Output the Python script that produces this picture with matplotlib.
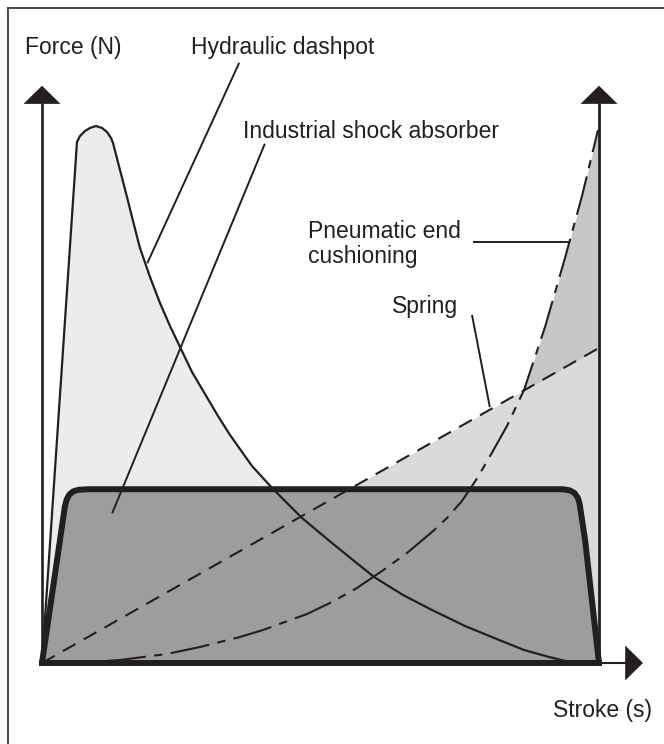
import matplotlib
matplotlib.use('Agg')
import matplotlib.pyplot as plt
from matplotlib.patches import Polygon
from matplotlib.lines import Line2D

INK = '#231f20'
HYD_FILL = '#ececec'
SPRING_FILL = '#d9dadc'
PNEU_FILL = '#c6c7c9'
SHOCK_FILL = '#9c9d9f'

# stroke in % of travel, force in % of hydraulic peak
hyd_x = [0, 6.28, 6.82, 7.72, 8.62, 9.69, 10.77, 11.67, 12.39, 12.75, 14.00,
         15.26, 16.34, 17.59, 19.39, 21.18, 22.98, 24.78, 26.93, 29.26, 31.60,
         33.75, 37.70, 41.47, 46.68, 52.06, 55.83, 59.61, 64.81, 70.02, 75.94,
         82.05, 86.54, 91.02, 93.90, 96.41]
hyd_y = [0, 97.75, 98.87, 99.81, 100.38, 100.75, 100.38, 99.62, 98.50, 97.56,
         92.50, 87.43, 82.93, 77.86, 72.42, 67.54, 63.23, 59.29, 54.60, 50.47,
         46.34, 42.78, 36.96, 32.65, 27.20, 22.51, 19.32, 16.14, 12.76, 9.94,
         6.94, 4.32, 2.44, 1.13, 0.38, 0]

pneu_x = [0, 8.62, 14.00, 22.44, 28.37, 35.55, 39.68, 47.58, 52.06, 56.55, 61.04,
          65.53, 70.02, 72.71, 75.40, 77.92, 80.25, 83.48, 86.54, 90.31, 93.90,
          96.95, 99.82]
pneu_y = [0, 0.19, 0.56, 1.69, 3.00, 4.88, 6.19, 9.19, 11.44, 14.07, 17.26,
          20.64, 24.58, 27.20, 30.39, 34.33, 38.46, 44.47, 51.22, 63.04, 76.00,
          87.62, 100.0]

spring_x = [0, 100]
spring_y = [0, 59.1]

shock_x = [0, 4.1, 4.4, 4.9, 5.6, 6.6, 8.3, 93.5, 94.7, 95.6, 96.2, 96.5, 97.5, 100]
shock_y = [0, 29.3, 30.6, 31.6, 32.2, 32.5, 32.6, 32.6, 32.4, 31.9, 31.0, 30.0, 23.1, 0]

# label text, anchor (left, baseline) and leader line ends
labels = ['Force (N)', 'Hydraulic dashpot', 'Industrial shock absorber',
          'Pneumatic end', 'cushioning', 'Spring', 'Stroke (s)']
label_x = [-3.1, 26.8, 36.1, 47.8, 47.8, 62.8, 91.7]
label_y = [114.3, 114.3, 98.5, 79.7, 75.0, 65.7, -10.1]

leaders = {
    'hyd': ([35.4, 18.9], [112.6, 75.0]),
    'shock': ([40.0, 12.6], [97.4, 28.1]),
    'pneu': ([77.4, 94.8], [79.0, 79.0]),
    'spring': ([77.2, 80.4], [65.3, 48.0]),
}

fig = plt.figure(figsize=(6.64, 7.44), dpi=100)
ax = fig.add_axes([0, 0, 1, 1])
ax.set_xlim(-7.54, 111.67)
ax.set_ylim(-15.2, 124.39)
ax.axis('off')

# fills, back to front
ax.fill_between(pneu_x, pneu_y, 0, color=PNEU_FILL, lw=0, zorder=1)
ax.fill_between(spring_x, spring_y, 0, color=SPRING_FILL, lw=0, zorder=2)
ax.fill_between(hyd_x, hyd_y, 0, color=HYD_FILL, lw=0, zorder=3)

# industrial shock absorber block
shock = Polygon(list(zip(shock_x, shock_y)), closed=True, facecolor=SHOCK_FILL,
                edgecolor=INK, lw=4.3, joinstyle='round', zorder=5)
ax.add_patch(shock)

# curves
ax.plot(hyd_x, hyd_y, color=INK, lw=1.6, zorder=6, solid_joinstyle='round')
ax.plot(spring_x, spring_y, color=INK, lw=1.5, ls=(0, (7, 4.5)), zorder=6)
ax.plot(pneu_x, pneu_y, color=INK, lw=1.5, ls=(0, (19, 4, 4, 4)), zorder=6)

# axes with arrow heads
ax_top, ax_tip, ax_hw = 104.9, 108.3, 3.32
ax.plot([0, 0], [0, ax_top], color=INK, lw=1.9, zorder=7)
ax.plot([100, 100], [0, ax_top], color=INK, lw=2.0, zorder=7)
for xc in [0, 100]:
    ax.add_patch(Polygon([(xc - ax_hw, ax_top), (xc + ax_hw, ax_top), (xc, ax_tip)],
                         closed=True, color=INK, lw=0, zorder=8))
x_end, x_tip, x_hh = 104.7, 107.9, 3.28
ax.plot([0, x_end], [0, 0], color=INK, lw=1.5, zorder=7)
ax.plot([0, 100], [0, 0], color=INK, lw=4.3, zorder=7, solid_capstyle='projecting')
ax.add_patch(Polygon([(x_end, -x_hh), (x_end, x_hh), (x_tip, 0)],
                     closed=True, color=INK, lw=0, zorder=8))

# leader lines
for xs, ys in leaders.values():
    ax.plot(xs, ys, color=INK, lw=1.4, zorder=9, solid_capstyle='butt')

for txt, tx, ty in zip(labels, label_x, label_y):
    ax.text(tx, ty, txt, fontsize=16.5, family='Liberation Sans', color=INK,
            ha='left', va='baseline', zorder=10)

# frame edges of the original panel
fig.add_artist(Line2D([8 / 664, 8 / 664], [0, 1 - 8 / 744], color='#4a4a4a', lw=1.4))
fig.add_artist(Line2D([8 / 664, 1], [1 - 8 / 744, 1 - 8 / 744], color='#4a4a4a', lw=1.4))

fig.savefig('out.png', dpi=100)
